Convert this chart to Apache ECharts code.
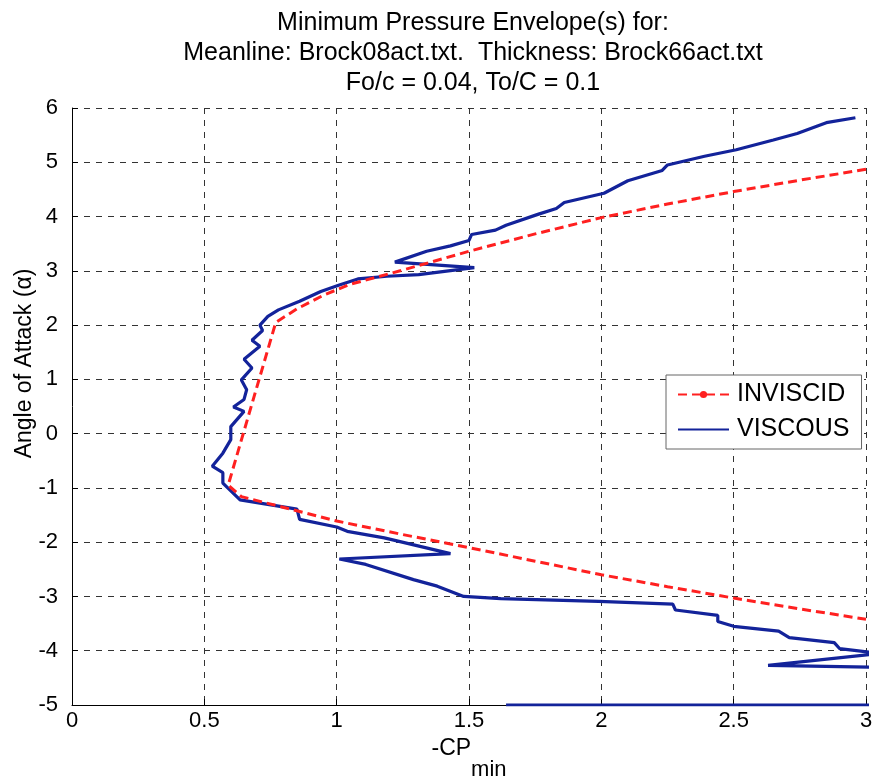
<!DOCTYPE html>
<html>
<head>
<meta charset="utf-8">
<script src="https://cdn.jsdelivr.net/npm/echarts@6/dist/echarts.min.js"></script>
<style>
html,body{margin:0;padding:0;background:#fff;}
#chart{width:875px;height:777px;}
</style>
</head>
<body>
<div id="chart"></div>
<script>
// ---- data ----
const titleLines = [
  'Minimum Pressure Envelope(s) for:',
  'Meanline: Brock08act.txt.  Thickness: Brock66act.txt',
  'Fo/c = 0.04, To/C = 0.1'
];
const xTicks = [0, 0.5, 1, 1.5, 2, 2.5, 3];
const yTicks = [-5, -4, -3, -2, -1, 0, 1, 2, 3, 4, 5, 6];

// INVISCID: -CPmin vs angle of attack
const inviscidCp = [3.0, 2.75, 2.5, 2.25, 2.0, 1.75, 1.5, 1.24, 1.05, 0.95, 0.85, 0.77,
                    0.68, 0.59, 0.64, 0.8, 1.0, 1.25, 1.5, 1.75, 2.0, 2.25, 2.5, 2.75, 3.0];
const inviscidAlpha = [4.87, 4.67, 4.46, 4.23, 3.98, 3.68, 3.36, 3.0, 2.75, 2.55, 2.3, 2.05,
                       0.55, -0.95, -1.16, -1.36, -1.61, -1.86, -2.1, -2.35, -2.6, -2.82, -3.03, -3.23, -3.42];

// VISCOUS: -CPmin vs angle of attack (null = break in the curve)
const viscousCp = [2.96, 2.85, 2.74, 2.65, 2.51, 2.39, 2.25, 2.23, 2.1, 2.01, 1.86, 1.83, 1.76, 1.64, 1.60,
                   1.51, 1.50, 1.43, 1.34, 1.22, 1.52, 1.31, 1.19, 1.08, 1.01, 0.94, 0.86, 0.78, 0.74, 0.71,
                   0.72, 0.68, 0.71, 0.65, 0.68, 0.64, 0.66, 0.65, 0.61, 0.65, 0.60, 0.60, 0.57, 0.53, 0.57,
                   0.57, 0.635, 0.85, 0.86, 1.0, 1.04, 1.18, 1.43, 1.01, 1.11, 1.29, 1.38, 1.48, 1.62, 1.99,
                   2.27, 2.28, 2.44, 2.44, 2.5, 2.67, 2.71, 2.88, 2.90, 3.05, 2.63, 3.1, null, 1.64, 3.2];
const viscousAlpha = [5.82, 5.73, 5.53, 5.41, 5.23, 5.11, 4.95, 4.85, 4.66, 4.43, 4.26, 4.15, 4.04, 3.84, 3.75,
                      3.67, 3.56, 3.46, 3.36, 3.16, 3.06, 2.93, 2.90, 2.85, 2.74, 2.62, 2.44, 2.28, 2.16, 2.0,
                      1.9, 1.72, 1.61, 1.37, 1.21, 0.99, 0.81, 0.63, 0.49, 0.41, 0.13, -0.11, -0.36, -0.60, -0.72,
                      -0.91, -1.22, -1.39, -1.58, -1.72, -1.80, -1.92, -2.21, -2.31, -2.41, -2.69, -2.81, -3.0, -3.04, -3.09,
                      -3.14, -3.25, -3.35, -3.46, -3.55, -3.64, -3.76, -3.85, -3.96, -4.05, -4.27, -4.31, null, -5.0, -5.0];

const pairs = (xs, ys) => xs.map((x, i) => (x === null || ys[i] === null) ? ['-', '-'] : [x, ys[i]]);

const FONT = 'Liberation Sans, Arial, sans-serif';
const chart = echarts.init(document.getElementById('chart'), null, {renderer: 'canvas'});
const gridLine = {show: true, lineStyle: {type: [6, 6], color: '#333', width: 1}};

chart.setOption({
  backgroundColor: '#fff',
  animation: false,
  title: {
    text: titleLines.map(l => '{t|' + l + '}').join('\n'),
    left: 'center',
    top: 8,
    padding: 0,
    textStyle: {
      fontFamily: FONT, fontSize: 25, fontWeight: 'normal', color: '#000', lineHeight: 30,
      rich: {t: {fontFamily: FONT, fontSize: 25, color: '#000', lineHeight: 30, padding: [0, 0, 0, 71]}}
    }
  },
  grid: {left: 72, right: 9, top: 108, bottom: 72, containLabel: false, outerBoundsMode: 'none'},
  legend: {
    orient: 'vertical',
    left: 666, top: 375,
    padding: [7, 12, 7, 11],
    itemGap: 10,
    itemWidth: 51, itemHeight: 9,
    backgroundColor: '#fff',
    borderColor: '#666', borderWidth: 1,
    textStyle: {fontFamily: FONT, fontSize: 25, color: '#000', padding: [0, 0, 0, 3]},
    data: [
      {name: 'INVISCID'},
      {name: 'VISCOUS', itemStyle: {opacity: 0}}
    ]
  },
  xAxis: {
    type: 'value', min: 0, max: 3, interval: 0.5,
    name: '{a|-CP}{b|min}',
    nameLocation: 'middle', nameGap: 24,
    nameTextStyle: {
      rich: {
        a: {fontFamily: FONT, fontSize: 23, color: '#000', verticalAlign: 'top'},
        b: {fontFamily: FONT, fontSize: 22, color: '#000', padding: [22, 0, 0, 0]}
      }
    },
    axisLine: {show: true, onZero: false, lineStyle: {color: '#000', width: 1}},
    axisTick: {show: true, inside: true, length: 6, lineStyle: {color: '#000'}},
    axisLabel: {fontFamily: FONT, fontSize: 22, color: '#000', margin: 5,
      formatter: v => xTicks.includes(v) ? String(v) : ''},
    splitLine: gridLine
  },
  yAxis: {
    type: 'value', min: -5, max: 6, interval: 1,
    name: 'Angle of Attack (α)',
    nameLocation: 'middle', nameGap: 36, nameMoveOverlap: false,
    nameTextStyle: {fontFamily: FONT, fontSize: 23, color: '#000', padding: [0, 0, 0, 86]},
    axisLine: {show: true, onZero: false, lineStyle: {color: '#000', width: 1}},
    axisTick: {show: true, inside: true, length: 6, lineStyle: {color: '#000'}},
    axisLabel: {fontFamily: FONT, fontSize: 22, color: '#000', margin: 14,
      formatter: v => yTicks.includes(v) ? String(v) : ''},
    splitLine: gridLine
  },
  series: [
    {
      name: 'INVISCID', type: 'line',
      data: pairs(inviscidCp, inviscidAlpha),
      symbol: 'circle', symbolSize: 7, showSymbol: false,
      clip: true,
      lineStyle: {color: '#ff2020', width: 3, type: [9, 5]},
      itemStyle: {color: '#ff2020'},
      z: 3
    },
    {
      name: 'VISCOUS', type: 'line',
      data: pairs(viscousCp, viscousAlpha),
      symbol: 'none', connectNulls: false,
      clip: true,
      lineStyle: {color: '#13239a', width: 3.2},
      itemStyle: {color: '#13239a'},
      z: 2
    }
  ]
});
</script>
</body>
</html>
